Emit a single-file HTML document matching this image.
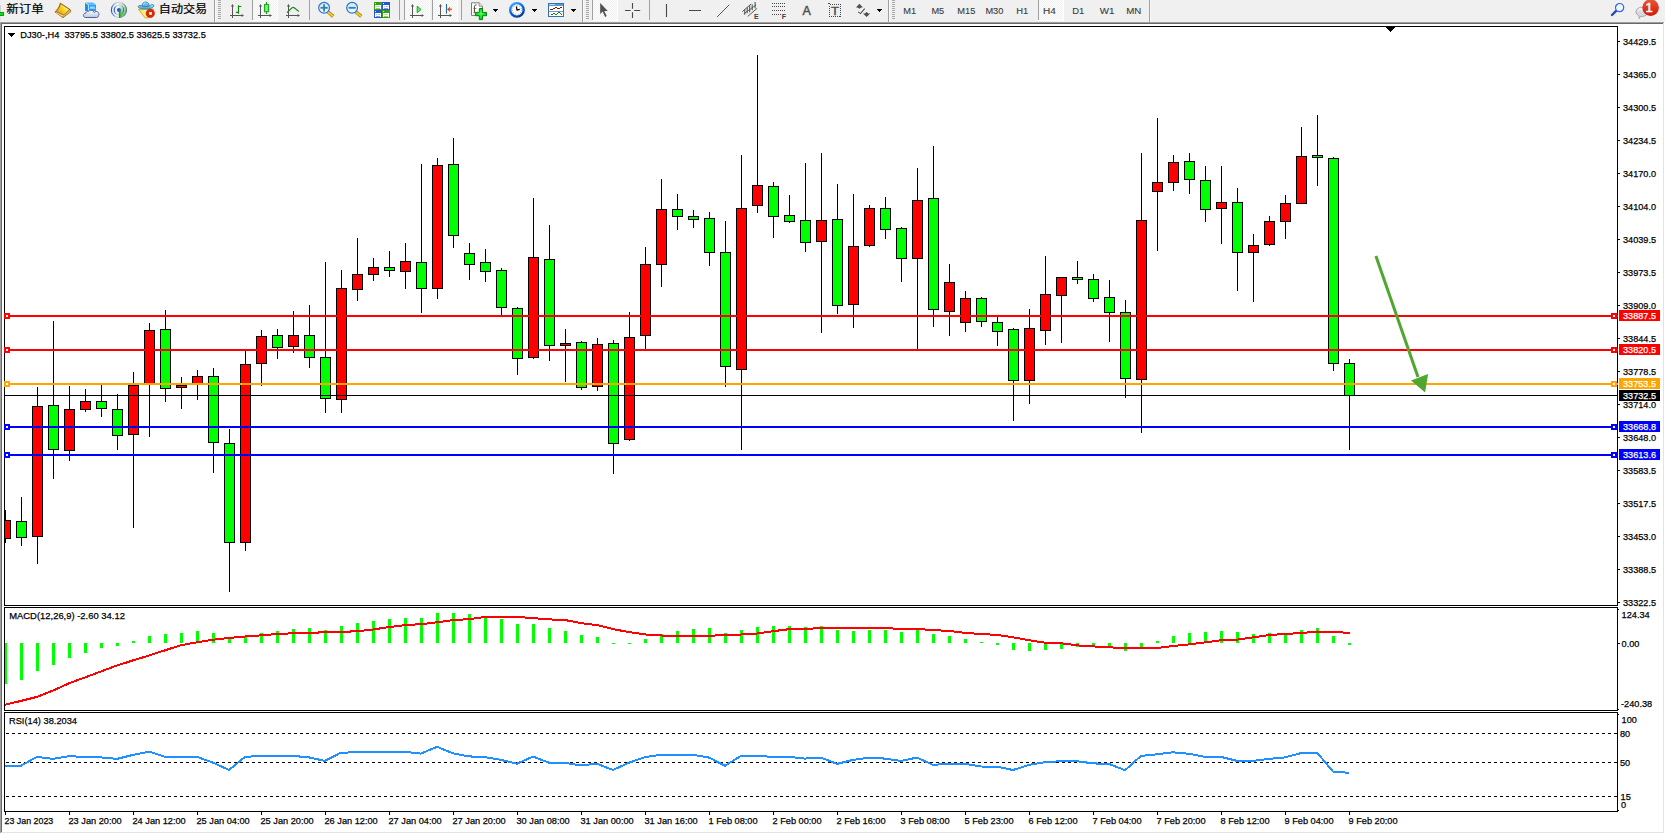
<!DOCTYPE html>
<html lang="zh"><head><meta charset="utf-8"><title>DJ30-,H4</title>
<style>
html,body{margin:0;padding:0;background:#f0f0f0;overflow:hidden}
body{width:1665px;height:834px;position:relative}
svg{position:absolute;left:0;top:0;display:block}
text{white-space:pre}
</style></head><body>
<svg width="1665" height="834" viewBox="0 0 1665 834">
<rect width="1665" height="834" fill="#f0f0f0"/>
<g shape-rendering="crispEdges">
<rect x="0" y="22" width="1665" height="812" fill="#fff"/>
<rect x="0" y="22" width="1664" height="1" fill="#a0a0a0"/>
<rect x="0" y="22" width="1" height="811" fill="#a0a0a0"/>
<rect x="1" y="23" width="1662" height="1" fill="#696969"/>
<rect x="1" y="23" width="1" height="809" fill="#696969"/>
<rect x="1663" y="23" width="1" height="810" fill="#e3e3e3"/>
<rect x="1" y="832" width="1663" height="1" fill="#e3e3e3"/>
<rect x="4" y="26" width="1614" height="1" fill="#000"/>
<rect x="4" y="605" width="1614" height="1" fill="#000"/>
<rect x="4" y="26" width="1" height="580" fill="#000"/>
<rect x="1617" y="26" width="1" height="580" fill="#000"/>
<rect x="4" y="607" width="1614" height="1" fill="#000"/>
<rect x="4" y="710" width="1614" height="1" fill="#000"/>
<rect x="4" y="607" width="1" height="104" fill="#000"/>
<rect x="1617" y="607" width="1" height="104" fill="#000"/>
<rect x="4" y="712" width="1614" height="1" fill="#000"/>
<rect x="4" y="811" width="1614" height="1" fill="#000"/>
<rect x="4" y="712" width="1" height="100" fill="#000"/>
<rect x="1617" y="712" width="1" height="100" fill="#000"/>
<clipPath id="cm"><rect x="5" y="27" width="1612" height="578"/></clipPath>
<clipPath id="cd"><rect x="5" y="608" width="1612" height="102"/></clipPath>
<clipPath id="cr"><rect x="5" y="713" width="1612" height="98"/></clipPath>
<g clip-path="url(#cm)">
<rect x="5" y="510" width="1" height="33" fill="#000"/>
<rect x="0" y="520" width="11" height="19" fill="#000"/>
<rect x="1" y="521" width="9" height="17" fill="#f00"/>
<rect x="21" y="497" width="1" height="49" fill="#000"/>
<rect x="16" y="521" width="11" height="17" fill="#000"/>
<rect x="17" y="522" width="9" height="15" fill="#0f0"/>
<rect x="37" y="387" width="1" height="177" fill="#000"/>
<rect x="32" y="406" width="11" height="131" fill="#000"/>
<rect x="33" y="407" width="9" height="129" fill="#f00"/>
<rect x="53" y="321" width="1" height="158" fill="#000"/>
<rect x="48" y="405" width="11" height="45" fill="#000"/>
<rect x="49" y="406" width="9" height="43" fill="#0f0"/>
<rect x="69" y="386" width="1" height="75" fill="#000"/>
<rect x="64" y="409" width="11" height="42" fill="#000"/>
<rect x="65" y="410" width="9" height="40" fill="#f00"/>
<rect x="85" y="389" width="1" height="23" fill="#000"/>
<rect x="80" y="401" width="11" height="9" fill="#000"/>
<rect x="81" y="402" width="9" height="7" fill="#f00"/>
<rect x="101" y="385" width="1" height="32" fill="#000"/>
<rect x="96" y="401" width="11" height="8" fill="#000"/>
<rect x="97" y="402" width="9" height="6" fill="#0f0"/>
<rect x="117" y="394" width="1" height="56" fill="#000"/>
<rect x="112" y="409" width="11" height="27" fill="#000"/>
<rect x="113" y="410" width="9" height="25" fill="#0f0"/>
<rect x="133" y="372" width="1" height="156" fill="#000"/>
<rect x="128" y="385" width="11" height="50" fill="#000"/>
<rect x="129" y="386" width="9" height="48" fill="#f00"/>
<rect x="149" y="323" width="1" height="114" fill="#000"/>
<rect x="144" y="330" width="11" height="54" fill="#000"/>
<rect x="145" y="331" width="9" height="52" fill="#f00"/>
<rect x="165" y="310" width="1" height="92" fill="#000"/>
<rect x="160" y="329" width="11" height="60" fill="#000"/>
<rect x="161" y="330" width="9" height="58" fill="#0f0"/>
<rect x="181" y="377" width="1" height="32" fill="#000"/>
<rect x="176" y="385" width="11" height="3" fill="#000"/>
<rect x="177" y="386" width="9" height="1" fill="#f00"/>
<rect x="197" y="370" width="1" height="30" fill="#000"/>
<rect x="192" y="376" width="11" height="8" fill="#000"/>
<rect x="193" y="377" width="9" height="6" fill="#f00"/>
<rect x="213" y="368" width="1" height="105" fill="#000"/>
<rect x="208" y="376" width="11" height="67" fill="#000"/>
<rect x="209" y="377" width="9" height="65" fill="#0f0"/>
<rect x="229" y="429" width="1" height="163" fill="#000"/>
<rect x="224" y="443" width="11" height="100" fill="#000"/>
<rect x="225" y="444" width="9" height="98" fill="#0f0"/>
<rect x="245" y="350" width="1" height="201" fill="#000"/>
<rect x="240" y="364" width="11" height="179" fill="#000"/>
<rect x="241" y="365" width="9" height="177" fill="#f00"/>
<rect x="261" y="330" width="1" height="56" fill="#000"/>
<rect x="256" y="336" width="11" height="28" fill="#000"/>
<rect x="257" y="337" width="9" height="26" fill="#f00"/>
<rect x="277" y="329" width="1" height="30" fill="#000"/>
<rect x="272" y="335" width="11" height="13" fill="#000"/>
<rect x="273" y="336" width="9" height="11" fill="#0f0"/>
<rect x="293" y="311" width="1" height="42" fill="#000"/>
<rect x="288" y="335" width="11" height="12" fill="#000"/>
<rect x="289" y="336" width="9" height="10" fill="#f00"/>
<rect x="309" y="305" width="1" height="63" fill="#000"/>
<rect x="304" y="335" width="11" height="23" fill="#000"/>
<rect x="305" y="336" width="9" height="21" fill="#0f0"/>
<rect x="325" y="262" width="1" height="151" fill="#000"/>
<rect x="320" y="357" width="11" height="42" fill="#000"/>
<rect x="321" y="358" width="9" height="40" fill="#0f0"/>
<rect x="341" y="270" width="1" height="143" fill="#000"/>
<rect x="336" y="288" width="11" height="112" fill="#000"/>
<rect x="337" y="289" width="9" height="110" fill="#f00"/>
<rect x="357" y="238" width="1" height="63" fill="#000"/>
<rect x="352" y="274" width="11" height="16" fill="#000"/>
<rect x="353" y="275" width="9" height="14" fill="#f00"/>
<rect x="373" y="258" width="1" height="23" fill="#000"/>
<rect x="368" y="267" width="11" height="8" fill="#000"/>
<rect x="369" y="268" width="9" height="6" fill="#f00"/>
<rect x="389" y="251" width="1" height="26" fill="#000"/>
<rect x="384" y="267" width="11" height="4" fill="#000"/>
<rect x="385" y="268" width="9" height="2" fill="#0f0"/>
<rect x="405" y="243" width="1" height="46" fill="#000"/>
<rect x="400" y="261" width="11" height="11" fill="#000"/>
<rect x="401" y="262" width="9" height="9" fill="#f00"/>
<rect x="421" y="164" width="1" height="149" fill="#000"/>
<rect x="416" y="262" width="11" height="27" fill="#000"/>
<rect x="417" y="263" width="9" height="25" fill="#0f0"/>
<rect x="437" y="158" width="1" height="141" fill="#000"/>
<rect x="432" y="165" width="11" height="124" fill="#000"/>
<rect x="433" y="166" width="9" height="122" fill="#f00"/>
<rect x="453" y="138" width="1" height="110" fill="#000"/>
<rect x="448" y="164" width="11" height="72" fill="#000"/>
<rect x="449" y="165" width="9" height="70" fill="#0f0"/>
<rect x="469" y="243" width="1" height="37" fill="#000"/>
<rect x="464" y="253" width="11" height="12" fill="#000"/>
<rect x="465" y="254" width="9" height="10" fill="#0f0"/>
<rect x="485" y="249" width="1" height="33" fill="#000"/>
<rect x="480" y="262" width="11" height="10" fill="#000"/>
<rect x="481" y="263" width="9" height="8" fill="#0f0"/>
<rect x="501" y="268" width="1" height="48" fill="#000"/>
<rect x="496" y="270" width="11" height="38" fill="#000"/>
<rect x="497" y="271" width="9" height="36" fill="#0f0"/>
<rect x="517" y="307" width="1" height="68" fill="#000"/>
<rect x="512" y="308" width="11" height="51" fill="#000"/>
<rect x="513" y="309" width="9" height="49" fill="#0f0"/>
<rect x="533" y="198" width="1" height="161" fill="#000"/>
<rect x="528" y="257" width="11" height="101" fill="#000"/>
<rect x="529" y="258" width="9" height="99" fill="#f00"/>
<rect x="549" y="225" width="1" height="136" fill="#000"/>
<rect x="544" y="259" width="11" height="87" fill="#000"/>
<rect x="545" y="260" width="9" height="85" fill="#0f0"/>
<rect x="565" y="329" width="1" height="53" fill="#000"/>
<rect x="560" y="343" width="11" height="3" fill="#000"/>
<rect x="561" y="344" width="9" height="1" fill="#f00"/>
<rect x="581" y="341" width="1" height="49" fill="#000"/>
<rect x="576" y="342" width="11" height="46" fill="#000"/>
<rect x="577" y="343" width="9" height="44" fill="#0f0"/>
<rect x="597" y="338" width="1" height="53" fill="#000"/>
<rect x="592" y="344" width="11" height="43" fill="#000"/>
<rect x="593" y="345" width="9" height="41" fill="#f00"/>
<rect x="613" y="340" width="1" height="134" fill="#000"/>
<rect x="608" y="343" width="11" height="101" fill="#000"/>
<rect x="609" y="344" width="9" height="99" fill="#0f0"/>
<rect x="629" y="312" width="1" height="129" fill="#000"/>
<rect x="624" y="337" width="11" height="103" fill="#000"/>
<rect x="625" y="338" width="9" height="101" fill="#f00"/>
<rect x="645" y="247" width="1" height="102" fill="#000"/>
<rect x="640" y="264" width="11" height="72" fill="#000"/>
<rect x="641" y="265" width="9" height="70" fill="#f00"/>
<rect x="661" y="179" width="1" height="108" fill="#000"/>
<rect x="656" y="209" width="11" height="56" fill="#000"/>
<rect x="657" y="210" width="9" height="54" fill="#f00"/>
<rect x="677" y="194" width="1" height="36" fill="#000"/>
<rect x="672" y="209" width="11" height="8" fill="#000"/>
<rect x="673" y="210" width="9" height="6" fill="#0f0"/>
<rect x="693" y="210" width="1" height="18" fill="#000"/>
<rect x="688" y="216" width="11" height="4" fill="#000"/>
<rect x="689" y="217" width="9" height="2" fill="#0f0"/>
<rect x="709" y="212" width="1" height="54" fill="#000"/>
<rect x="704" y="218" width="11" height="35" fill="#000"/>
<rect x="705" y="219" width="9" height="33" fill="#0f0"/>
<rect x="725" y="221" width="1" height="166" fill="#000"/>
<rect x="720" y="252" width="11" height="115" fill="#000"/>
<rect x="721" y="253" width="9" height="113" fill="#0f0"/>
<rect x="741" y="155" width="1" height="295" fill="#000"/>
<rect x="736" y="208" width="11" height="162" fill="#000"/>
<rect x="737" y="209" width="9" height="160" fill="#f00"/>
<rect x="757" y="55" width="1" height="158" fill="#000"/>
<rect x="752" y="185" width="11" height="21" fill="#000"/>
<rect x="753" y="186" width="9" height="19" fill="#f00"/>
<rect x="773" y="182" width="1" height="56" fill="#000"/>
<rect x="768" y="186" width="11" height="31" fill="#000"/>
<rect x="769" y="187" width="9" height="29" fill="#0f0"/>
<rect x="789" y="195" width="1" height="28" fill="#000"/>
<rect x="784" y="215" width="11" height="7" fill="#000"/>
<rect x="785" y="216" width="9" height="5" fill="#0f0"/>
<rect x="805" y="163" width="1" height="89" fill="#000"/>
<rect x="800" y="220" width="11" height="23" fill="#000"/>
<rect x="801" y="221" width="9" height="21" fill="#0f0"/>
<rect x="821" y="153" width="1" height="180" fill="#000"/>
<rect x="816" y="220" width="11" height="22" fill="#000"/>
<rect x="817" y="221" width="9" height="20" fill="#f00"/>
<rect x="837" y="184" width="1" height="130" fill="#000"/>
<rect x="832" y="219" width="11" height="87" fill="#000"/>
<rect x="833" y="220" width="9" height="85" fill="#0f0"/>
<rect x="853" y="194" width="1" height="134" fill="#000"/>
<rect x="848" y="246" width="11" height="59" fill="#000"/>
<rect x="849" y="247" width="9" height="57" fill="#f00"/>
<rect x="869" y="205" width="1" height="42" fill="#000"/>
<rect x="864" y="208" width="11" height="38" fill="#000"/>
<rect x="865" y="209" width="9" height="36" fill="#f00"/>
<rect x="885" y="197" width="1" height="42" fill="#000"/>
<rect x="880" y="208" width="11" height="22" fill="#000"/>
<rect x="881" y="209" width="9" height="20" fill="#0f0"/>
<rect x="901" y="227" width="1" height="55" fill="#000"/>
<rect x="896" y="228" width="11" height="31" fill="#000"/>
<rect x="897" y="229" width="9" height="29" fill="#0f0"/>
<rect x="917" y="168" width="1" height="181" fill="#000"/>
<rect x="912" y="200" width="11" height="59" fill="#000"/>
<rect x="913" y="201" width="9" height="57" fill="#f00"/>
<rect x="933" y="146" width="1" height="181" fill="#000"/>
<rect x="928" y="198" width="11" height="112" fill="#000"/>
<rect x="929" y="199" width="9" height="110" fill="#0f0"/>
<rect x="949" y="264" width="1" height="72" fill="#000"/>
<rect x="944" y="282" width="11" height="30" fill="#000"/>
<rect x="945" y="283" width="9" height="28" fill="#f00"/>
<rect x="965" y="291" width="1" height="41" fill="#000"/>
<rect x="960" y="298" width="11" height="25" fill="#000"/>
<rect x="961" y="299" width="9" height="23" fill="#f00"/>
<rect x="981" y="297" width="1" height="30" fill="#000"/>
<rect x="976" y="298" width="11" height="24" fill="#000"/>
<rect x="977" y="299" width="9" height="22" fill="#0f0"/>
<rect x="997" y="317" width="1" height="29" fill="#000"/>
<rect x="992" y="322" width="11" height="10" fill="#000"/>
<rect x="993" y="323" width="9" height="8" fill="#0f0"/>
<rect x="1013" y="328" width="1" height="93" fill="#000"/>
<rect x="1008" y="329" width="11" height="52" fill="#000"/>
<rect x="1009" y="330" width="9" height="50" fill="#0f0"/>
<rect x="1029" y="309" width="1" height="95" fill="#000"/>
<rect x="1024" y="328" width="11" height="53" fill="#000"/>
<rect x="1025" y="329" width="9" height="51" fill="#f00"/>
<rect x="1045" y="256" width="1" height="89" fill="#000"/>
<rect x="1040" y="294" width="11" height="37" fill="#000"/>
<rect x="1041" y="295" width="9" height="35" fill="#f00"/>
<rect x="1061" y="277" width="1" height="66" fill="#000"/>
<rect x="1056" y="277" width="11" height="19" fill="#000"/>
<rect x="1057" y="278" width="9" height="17" fill="#f00"/>
<rect x="1077" y="261" width="1" height="23" fill="#000"/>
<rect x="1072" y="277" width="11" height="3" fill="#000"/>
<rect x="1073" y="278" width="9" height="1" fill="#0f0"/>
<rect x="1093" y="274" width="1" height="28" fill="#000"/>
<rect x="1088" y="279" width="11" height="20" fill="#000"/>
<rect x="1089" y="280" width="9" height="18" fill="#0f0"/>
<rect x="1109" y="280" width="1" height="62" fill="#000"/>
<rect x="1104" y="297" width="11" height="16" fill="#000"/>
<rect x="1105" y="298" width="9" height="14" fill="#0f0"/>
<rect x="1125" y="300" width="1" height="98" fill="#000"/>
<rect x="1120" y="312" width="11" height="67" fill="#000"/>
<rect x="1121" y="313" width="9" height="65" fill="#0f0"/>
<rect x="1141" y="153" width="1" height="280" fill="#000"/>
<rect x="1136" y="220" width="11" height="160" fill="#000"/>
<rect x="1137" y="221" width="9" height="158" fill="#f00"/>
<rect x="1157" y="118" width="1" height="133" fill="#000"/>
<rect x="1152" y="182" width="11" height="10" fill="#000"/>
<rect x="1153" y="183" width="9" height="8" fill="#f00"/>
<rect x="1173" y="155" width="1" height="36" fill="#000"/>
<rect x="1168" y="162" width="11" height="21" fill="#000"/>
<rect x="1169" y="163" width="9" height="19" fill="#f00"/>
<rect x="1189" y="153" width="1" height="41" fill="#000"/>
<rect x="1184" y="161" width="11" height="19" fill="#000"/>
<rect x="1185" y="162" width="9" height="17" fill="#0f0"/>
<rect x="1205" y="166" width="1" height="56" fill="#000"/>
<rect x="1200" y="180" width="11" height="30" fill="#000"/>
<rect x="1201" y="181" width="9" height="28" fill="#0f0"/>
<rect x="1221" y="166" width="1" height="78" fill="#000"/>
<rect x="1216" y="202" width="11" height="7" fill="#000"/>
<rect x="1217" y="203" width="9" height="5" fill="#f00"/>
<rect x="1237" y="188" width="1" height="103" fill="#000"/>
<rect x="1232" y="202" width="11" height="51" fill="#000"/>
<rect x="1233" y="203" width="9" height="49" fill="#0f0"/>
<rect x="1253" y="234" width="1" height="68" fill="#000"/>
<rect x="1248" y="245" width="11" height="8" fill="#000"/>
<rect x="1249" y="246" width="9" height="6" fill="#f00"/>
<rect x="1269" y="216" width="1" height="30" fill="#000"/>
<rect x="1264" y="221" width="11" height="24" fill="#000"/>
<rect x="1265" y="222" width="9" height="22" fill="#f00"/>
<rect x="1285" y="195" width="1" height="44" fill="#000"/>
<rect x="1280" y="203" width="11" height="19" fill="#000"/>
<rect x="1281" y="204" width="9" height="17" fill="#f00"/>
<rect x="1301" y="127" width="1" height="77" fill="#000"/>
<rect x="1296" y="156" width="11" height="48" fill="#000"/>
<rect x="1297" y="157" width="9" height="46" fill="#f00"/>
<rect x="1317" y="115" width="1" height="71" fill="#000"/>
<rect x="1312" y="155" width="11" height="3" fill="#000"/>
<rect x="1313" y="156" width="9" height="1" fill="#0f0"/>
<rect x="1333" y="157" width="1" height="214" fill="#000"/>
<rect x="1328" y="158" width="11" height="206" fill="#000"/>
<rect x="1329" y="159" width="9" height="204" fill="#0f0"/>
<rect x="1349" y="359" width="1" height="91" fill="#000"/>
<rect x="1344" y="363" width="11" height="33" fill="#000"/>
<rect x="1345" y="364" width="9" height="31" fill="#0f0"/>
</g>
<rect x="5" y="395" width="1612" height="1" fill="#000"/>
<rect x="4" y="315" width="1614" height="2" fill="#f00"/>
<rect x="4" y="313" width="6" height="6" fill="#f00"/>
<rect x="6" y="315" width="2" height="2" fill="#fff"/>
<rect x="1611" y="313" width="6" height="6" fill="#f00"/>
<rect x="1613" y="315" width="2" height="2" fill="#fff"/>
<rect x="4" y="349" width="1614" height="2" fill="#f00"/>
<rect x="4" y="347" width="6" height="6" fill="#f00"/>
<rect x="6" y="349" width="2" height="2" fill="#fff"/>
<rect x="1611" y="347" width="6" height="6" fill="#f00"/>
<rect x="1613" y="349" width="2" height="2" fill="#fff"/>
<rect x="4" y="383" width="1614" height="2" fill="#ffa500"/>
<rect x="4" y="381" width="6" height="6" fill="#ffa500"/>
<rect x="6" y="383" width="2" height="2" fill="#fff"/>
<rect x="1611" y="381" width="6" height="6" fill="#ffa500"/>
<rect x="1613" y="383" width="2" height="2" fill="#fff"/>
<rect x="4" y="426" width="1614" height="2" fill="#00f"/>
<rect x="4" y="424" width="6" height="6" fill="#00f"/>
<rect x="6" y="426" width="2" height="2" fill="#fff"/>
<rect x="1611" y="424" width="6" height="6" fill="#00f"/>
<rect x="1613" y="426" width="2" height="2" fill="#fff"/>
<rect x="4" y="454" width="1614" height="2" fill="#00f"/>
<rect x="4" y="452" width="6" height="6" fill="#00f"/>
<rect x="6" y="454" width="2" height="2" fill="#fff"/>
<rect x="1611" y="452" width="6" height="6" fill="#00f"/>
<rect x="1613" y="454" width="2" height="2" fill="#fff"/>
<rect x="1618" y="41" width="2" height="1" fill="#000"/>
<rect x="1618" y="74" width="2" height="1" fill="#000"/>
<rect x="1618" y="107" width="2" height="1" fill="#000"/>
<rect x="1618" y="140" width="2" height="1" fill="#000"/>
<rect x="1618" y="173" width="2" height="1" fill="#000"/>
<rect x="1618" y="206" width="2" height="1" fill="#000"/>
<rect x="1618" y="239" width="2" height="1" fill="#000"/>
<rect x="1618" y="272" width="2" height="1" fill="#000"/>
<rect x="1618" y="305" width="2" height="1" fill="#000"/>
<rect x="1618" y="338" width="2" height="1" fill="#000"/>
<rect x="1618" y="371" width="2" height="1" fill="#000"/>
<rect x="1618" y="404" width="2" height="1" fill="#000"/>
<rect x="1618" y="437" width="2" height="1" fill="#000"/>
<rect x="1618" y="470" width="2" height="1" fill="#000"/>
<rect x="1618" y="503" width="2" height="1" fill="#000"/>
<rect x="1618" y="536" width="2" height="1" fill="#000"/>
<rect x="1618" y="569" width="2" height="1" fill="#000"/>
<rect x="1618" y="602" width="2" height="1" fill="#000"/>
</g>
<g font-family="'Liberation Sans', sans-serif" font-size="9.8" stroke-width="0.25">
<text x="1623" y="44.6" fill="#000" stroke="#000" textLength="33.0" lengthAdjust="spacingAndGlyphs">34429.5</text>
<text x="1623" y="77.6" fill="#000" stroke="#000" textLength="33.0" lengthAdjust="spacingAndGlyphs">34365.0</text>
<text x="1623" y="110.6" fill="#000" stroke="#000" textLength="33.0" lengthAdjust="spacingAndGlyphs">34300.5</text>
<text x="1623" y="143.6" fill="#000" stroke="#000" textLength="33.0" lengthAdjust="spacingAndGlyphs">34234.5</text>
<text x="1623" y="176.6" fill="#000" stroke="#000" textLength="33.0" lengthAdjust="spacingAndGlyphs">34170.0</text>
<text x="1623" y="209.6" fill="#000" stroke="#000" textLength="33.0" lengthAdjust="spacingAndGlyphs">34104.0</text>
<text x="1623" y="242.6" fill="#000" stroke="#000" textLength="33.0" lengthAdjust="spacingAndGlyphs">34039.5</text>
<text x="1623" y="275.6" fill="#000" stroke="#000" textLength="33.0" lengthAdjust="spacingAndGlyphs">33973.5</text>
<text x="1623" y="308.6" fill="#000" stroke="#000" textLength="33.0" lengthAdjust="spacingAndGlyphs">33909.0</text>
<text x="1623" y="341.6" fill="#000" stroke="#000" textLength="33.0" lengthAdjust="spacingAndGlyphs">33844.5</text>
<text x="1623" y="374.6" fill="#000" stroke="#000" textLength="33.0" lengthAdjust="spacingAndGlyphs">33778.5</text>
<text x="1623" y="407.6" fill="#000" stroke="#000" textLength="33.0" lengthAdjust="spacingAndGlyphs">33714.0</text>
<text x="1623" y="440.6" fill="#000" stroke="#000" textLength="33.0" lengthAdjust="spacingAndGlyphs">33648.0</text>
<text x="1623" y="473.6" fill="#000" stroke="#000" textLength="33.0" lengthAdjust="spacingAndGlyphs">33583.5</text>
<text x="1623" y="506.6" fill="#000" stroke="#000" textLength="33.0" lengthAdjust="spacingAndGlyphs">33517.5</text>
<text x="1623" y="539.6" fill="#000" stroke="#000" textLength="33.0" lengthAdjust="spacingAndGlyphs">33453.0</text>
<text x="1623" y="572.6" fill="#000" stroke="#000" textLength="33.0" lengthAdjust="spacingAndGlyphs">33388.5</text>
<text x="1623" y="605.6" fill="#000" stroke="#000" textLength="33.0" lengthAdjust="spacingAndGlyphs">33322.5</text>
<g shape-rendering="crispEdges">
<rect x="1619" y="310" width="41" height="11" fill="#f00"/>
<rect x="1619" y="344" width="41" height="11" fill="#f00"/>
<rect x="1619" y="378" width="41" height="11" fill="#ffa500"/>
<rect x="1619" y="390" width="41" height="11" fill="#000"/>
<rect x="1619" y="421" width="41" height="11" fill="#00f"/>
<rect x="1619" y="449" width="41" height="11" fill="#00f"/>
</g>
<text x="1623" y="318.7" fill="#fff" stroke="#fff" textLength="33.0" lengthAdjust="spacingAndGlyphs">33887.5</text>
<text x="1623" y="352.7" fill="#fff" stroke="#fff" textLength="33.0" lengthAdjust="spacingAndGlyphs">33820.5</text>
<text x="1623" y="386.7" fill="#fff" stroke="#fff" textLength="33.0" lengthAdjust="spacingAndGlyphs">33753.5</text>
<text x="1623" y="398.7" fill="#fff" stroke="#fff" textLength="33.0" lengthAdjust="spacingAndGlyphs">33732.5</text>
<text x="1623" y="429.7" fill="#fff" stroke="#fff" textLength="33.0" lengthAdjust="spacingAndGlyphs">33668.8</text>
<text x="1623" y="457.7" fill="#fff" stroke="#fff" textLength="33.0" lengthAdjust="spacingAndGlyphs">33613.6</text>
<g shape-rendering="crispEdges">
<rect x="8" y="33" width="7" height="1" fill="#000"/>
<rect x="9" y="34" width="5" height="1" fill="#000"/>
<rect x="10" y="35" width="3" height="1" fill="#000"/>
<rect x="11" y="36" width="1" height="1" fill="#000"/>
</g>
<text x="20.3" y="37.8" fill="#000" stroke="#000" textLength="185.5" lengthAdjust="spacingAndGlyphs" xml:space="preserve">DJ30-,H4&#160;&#160;33795.5 33802.5 33625.5 33732.5</text>
<text x="9.2" y="619.2" fill="#000" stroke="#000" textLength="115.7" lengthAdjust="spacingAndGlyphs">MACD(12,26,9) -2.60 34.12</text>
<text x="9" y="724.2" fill="#000" stroke="#000" textLength="68.0" lengthAdjust="spacingAndGlyphs">RSI(14) 38.2034</text>
<text x="1621.6" y="617.8" fill="#000" stroke="#000" textLength="28.1" lengthAdjust="spacingAndGlyphs">124.34</text>
<text x="1621.6" y="646.8" fill="#000" stroke="#000" textLength="17.9" lengthAdjust="spacingAndGlyphs">0.00</text>
<text x="1621" y="706.8" fill="#000" stroke="#000" textLength="31.2" lengthAdjust="spacingAndGlyphs">-240.38</text>
<text x="1621.6" y="722.8" fill="#000" stroke="#000" textLength="15.3" lengthAdjust="spacingAndGlyphs">100</text>
<text x="1620" y="736.8" fill="#000" stroke="#000" textLength="10.2" lengthAdjust="spacingAndGlyphs">80</text>
<text x="1620" y="765.8" fill="#000" stroke="#000" textLength="10.2" lengthAdjust="spacingAndGlyphs">50</text>
<text x="1620.6" y="799.8" fill="#000" stroke="#000" textLength="10.2" lengthAdjust="spacingAndGlyphs">15</text>
<text x="1621" y="808.4" fill="#000" stroke="#000" textLength="5.1" lengthAdjust="spacingAndGlyphs">0</text>
<text x="4.5" y="823.8" fill="#000" stroke="#000" textLength="48.8" lengthAdjust="spacingAndGlyphs">23 Jan 2023</text>
<text x="68.5" y="823.8" fill="#000" stroke="#000" textLength="53.2" lengthAdjust="spacingAndGlyphs">23 Jan 20:00</text>
<text x="132.5" y="823.8" fill="#000" stroke="#000" textLength="53.2" lengthAdjust="spacingAndGlyphs">24 Jan 12:00</text>
<text x="196.5" y="823.8" fill="#000" stroke="#000" textLength="53.2" lengthAdjust="spacingAndGlyphs">25 Jan 04:00</text>
<text x="260.5" y="823.8" fill="#000" stroke="#000" textLength="53.2" lengthAdjust="spacingAndGlyphs">25 Jan 20:00</text>
<text x="324.5" y="823.8" fill="#000" stroke="#000" textLength="53.2" lengthAdjust="spacingAndGlyphs">26 Jan 12:00</text>
<text x="388.5" y="823.8" fill="#000" stroke="#000" textLength="53.2" lengthAdjust="spacingAndGlyphs">27 Jan 04:00</text>
<text x="452.5" y="823.8" fill="#000" stroke="#000" textLength="53.2" lengthAdjust="spacingAndGlyphs">27 Jan 20:00</text>
<text x="516.5" y="823.8" fill="#000" stroke="#000" textLength="53.2" lengthAdjust="spacingAndGlyphs">30 Jan 08:00</text>
<text x="580.5" y="823.8" fill="#000" stroke="#000" textLength="53.2" lengthAdjust="spacingAndGlyphs">31 Jan 00:00</text>
<text x="644.5" y="823.8" fill="#000" stroke="#000" textLength="53.2" lengthAdjust="spacingAndGlyphs">31 Jan 16:00</text>
<text x="708.5" y="823.8" fill="#000" stroke="#000" textLength="49.1" lengthAdjust="spacingAndGlyphs">1 Feb 08:00</text>
<text x="772.5" y="823.8" fill="#000" stroke="#000" textLength="49.1" lengthAdjust="spacingAndGlyphs">2 Feb 00:00</text>
<text x="836.5" y="823.8" fill="#000" stroke="#000" textLength="49.1" lengthAdjust="spacingAndGlyphs">2 Feb 16:00</text>
<text x="900.5" y="823.8" fill="#000" stroke="#000" textLength="49.1" lengthAdjust="spacingAndGlyphs">3 Feb 08:00</text>
<text x="964.5" y="823.8" fill="#000" stroke="#000" textLength="49.1" lengthAdjust="spacingAndGlyphs">5 Feb 23:00</text>
<text x="1028.5" y="823.8" fill="#000" stroke="#000" textLength="49.1" lengthAdjust="spacingAndGlyphs">6 Feb 12:00</text>
<text x="1092.5" y="823.8" fill="#000" stroke="#000" textLength="49.1" lengthAdjust="spacingAndGlyphs">7 Feb 04:00</text>
<text x="1156.5" y="823.8" fill="#000" stroke="#000" textLength="49.1" lengthAdjust="spacingAndGlyphs">7 Feb 20:00</text>
<text x="1220.5" y="823.8" fill="#000" stroke="#000" textLength="49.1" lengthAdjust="spacingAndGlyphs">8 Feb 12:00</text>
<text x="1284.5" y="823.8" fill="#000" stroke="#000" textLength="49.1" lengthAdjust="spacingAndGlyphs">9 Feb 04:00</text>
<text x="1348.5" y="823.8" fill="#000" stroke="#000" textLength="49.1" lengthAdjust="spacingAndGlyphs">9 Feb 20:00</text>
</g>
<g shape-rendering="crispEdges">
<rect x="5" y="812" width="1" height="3" fill="#000"/>
<rect x="69" y="812" width="1" height="3" fill="#000"/>
<rect x="133" y="812" width="1" height="3" fill="#000"/>
<rect x="197" y="812" width="1" height="3" fill="#000"/>
<rect x="261" y="812" width="1" height="3" fill="#000"/>
<rect x="325" y="812" width="1" height="3" fill="#000"/>
<rect x="389" y="812" width="1" height="3" fill="#000"/>
<rect x="453" y="812" width="1" height="3" fill="#000"/>
<rect x="517" y="812" width="1" height="3" fill="#000"/>
<rect x="581" y="812" width="1" height="3" fill="#000"/>
<rect x="645" y="812" width="1" height="3" fill="#000"/>
<rect x="709" y="812" width="1" height="3" fill="#000"/>
<rect x="773" y="812" width="1" height="3" fill="#000"/>
<rect x="837" y="812" width="1" height="3" fill="#000"/>
<rect x="901" y="812" width="1" height="3" fill="#000"/>
<rect x="965" y="812" width="1" height="3" fill="#000"/>
<rect x="1029" y="812" width="1" height="3" fill="#000"/>
<rect x="1093" y="812" width="1" height="3" fill="#000"/>
<rect x="1157" y="812" width="1" height="3" fill="#000"/>
<rect x="1221" y="812" width="1" height="3" fill="#000"/>
<rect x="1285" y="812" width="1" height="3" fill="#000"/>
<rect x="1349" y="812" width="1" height="3" fill="#000"/>
<rect x="1618" y="609" width="1" height="1" fill="#000"/>
<rect x="1618" y="643" width="2" height="1" fill="#000"/>
<rect x="1618" y="709" width="1" height="1" fill="#000"/>
<rect x="1618" y="714" width="1" height="1" fill="#000"/>
<rect x="1618" y="810" width="1" height="1" fill="#000"/>
<g clip-path="url(#cd)">
<rect x="4" y="643" width="3" height="41" fill="#0f0"/>
<rect x="20" y="643" width="3" height="37" fill="#0f0"/>
<rect x="36" y="643" width="3" height="28" fill="#0f0"/>
<rect x="52" y="643" width="3" height="22" fill="#0f0"/>
<rect x="68" y="643" width="3" height="15" fill="#0f0"/>
<rect x="84" y="643" width="3" height="10" fill="#0f0"/>
<rect x="100" y="643" width="3" height="5" fill="#0f0"/>
<rect x="116" y="643" width="3" height="3" fill="#0f0"/>
<rect x="132" y="641" width="3" height="2" fill="#0f0"/>
<rect x="148" y="636" width="3" height="7" fill="#0f0"/>
<rect x="164" y="634" width="3" height="9" fill="#0f0"/>
<rect x="180" y="633" width="3" height="10" fill="#0f0"/>
<rect x="196" y="631" width="3" height="12" fill="#0f0"/>
<rect x="212" y="633" width="3" height="10" fill="#0f0"/>
<rect x="228" y="638" width="3" height="5" fill="#0f0"/>
<rect x="244" y="636" width="3" height="7" fill="#0f0"/>
<rect x="260" y="633" width="3" height="10" fill="#0f0"/>
<rect x="276" y="631" width="3" height="12" fill="#0f0"/>
<rect x="292" y="629" width="3" height="14" fill="#0f0"/>
<rect x="308" y="628" width="3" height="15" fill="#0f0"/>
<rect x="324" y="630" width="3" height="13" fill="#0f0"/>
<rect x="340" y="626" width="3" height="17" fill="#0f0"/>
<rect x="356" y="623" width="3" height="20" fill="#0f0"/>
<rect x="372" y="621" width="3" height="22" fill="#0f0"/>
<rect x="388" y="619" width="3" height="24" fill="#0f0"/>
<rect x="404" y="618" width="3" height="25" fill="#0f0"/>
<rect x="420" y="618" width="3" height="25" fill="#0f0"/>
<rect x="436" y="613" width="3" height="30" fill="#0f0"/>
<rect x="452" y="613" width="3" height="30" fill="#0f0"/>
<rect x="468" y="614" width="3" height="29" fill="#0f0"/>
<rect x="484" y="616" width="3" height="27" fill="#0f0"/>
<rect x="500" y="619" width="3" height="24" fill="#0f0"/>
<rect x="516" y="624" width="3" height="19" fill="#0f0"/>
<rect x="532" y="624" width="3" height="19" fill="#0f0"/>
<rect x="548" y="628" width="3" height="15" fill="#0f0"/>
<rect x="564" y="631" width="3" height="12" fill="#0f0"/>
<rect x="580" y="635" width="3" height="8" fill="#0f0"/>
<rect x="596" y="637" width="3" height="6" fill="#0f0"/>
<rect x="612" y="643" width="3" height="1" fill="#0f0"/>
<rect x="628" y="643" width="3" height="1" fill="#0f0"/>
<rect x="644" y="639" width="3" height="4" fill="#0f0"/>
<rect x="660" y="634" width="3" height="9" fill="#0f0"/>
<rect x="676" y="631" width="3" height="12" fill="#0f0"/>
<rect x="692" y="629" width="3" height="14" fill="#0f0"/>
<rect x="708" y="628" width="3" height="15" fill="#0f0"/>
<rect x="724" y="633" width="3" height="10" fill="#0f0"/>
<rect x="740" y="630" width="3" height="13" fill="#0f0"/>
<rect x="756" y="627" width="3" height="16" fill="#0f0"/>
<rect x="772" y="626" width="3" height="17" fill="#0f0"/>
<rect x="788" y="626" width="3" height="17" fill="#0f0"/>
<rect x="804" y="627" width="3" height="16" fill="#0f0"/>
<rect x="820" y="626" width="3" height="17" fill="#0f0"/>
<rect x="836" y="630" width="3" height="13" fill="#0f0"/>
<rect x="852" y="631" width="3" height="12" fill="#0f0"/>
<rect x="868" y="630" width="3" height="13" fill="#0f0"/>
<rect x="884" y="630" width="3" height="13" fill="#0f0"/>
<rect x="900" y="632" width="3" height="11" fill="#0f0"/>
<rect x="916" y="629" width="3" height="14" fill="#0f0"/>
<rect x="932" y="634" width="3" height="9" fill="#0f0"/>
<rect x="948" y="636" width="3" height="7" fill="#0f0"/>
<rect x="964" y="639" width="3" height="4" fill="#0f0"/>
<rect x="980" y="642" width="3" height="1" fill="#0f0"/>
<rect x="996" y="643" width="3" height="2" fill="#0f0"/>
<rect x="1012" y="643" width="3" height="7" fill="#0f0"/>
<rect x="1028" y="643" width="3" height="8" fill="#0f0"/>
<rect x="1044" y="643" width="3" height="7" fill="#0f0"/>
<rect x="1060" y="643" width="3" height="6" fill="#0f0"/>
<rect x="1076" y="643" width="3" height="4" fill="#0f0"/>
<rect x="1092" y="643" width="3" height="4" fill="#0f0"/>
<rect x="1108" y="643" width="3" height="5" fill="#0f0"/>
<rect x="1124" y="643" width="3" height="8" fill="#0f0"/>
<rect x="1140" y="643" width="3" height="5" fill="#0f0"/>
<rect x="1156" y="641" width="3" height="2" fill="#0f0"/>
<rect x="1172" y="636" width="3" height="7" fill="#0f0"/>
<rect x="1188" y="633" width="3" height="10" fill="#0f0"/>
<rect x="1204" y="632" width="3" height="11" fill="#0f0"/>
<rect x="1220" y="631" width="3" height="12" fill="#0f0"/>
<rect x="1236" y="632" width="3" height="11" fill="#0f0"/>
<rect x="1252" y="634" width="3" height="9" fill="#0f0"/>
<rect x="1268" y="633" width="3" height="10" fill="#0f0"/>
<rect x="1284" y="633" width="3" height="10" fill="#0f0"/>
<rect x="1300" y="630" width="3" height="13" fill="#0f0"/>
<rect x="1316" y="628" width="3" height="15" fill="#0f0"/>
<rect x="1332" y="636" width="3" height="7" fill="#0f0"/>
<rect x="1348" y="643" width="3" height="2" fill="#0f0"/>
<polyline points="4,705.0 5,704.8 21,700.9 37,696.9 53,690.6 69,683.3 85,677.4 101,671.4 117,665.5 133,660.4 149,655.6 165,650.3 181,645.2 197,642.3 213,639.7 229,638.0 245,636.5 262,635.3 277,634.0 293,633.3 309,632.8 325,632.3 341,631.8 357,631.3 373,629.5 388,627.2 406,625.0 421,624.2 437.6,622.2 453.5,620.1 469.6,619.1 485.5,616.9 501,616.9 517,616.9 533,618.1 549.6,619.4 565.5,620.1 581.6,623.2 597.5,625.2 613.4,629.2 629.6,632.2 645.5,634.5 661.6,635.5 677,635.8 709,635.8 725,635.0 741,634.5 757,633.5 773,631.2 789,629.2 805,629.0 821,628.0 885,628.0 901,629.0 917,629.0 933,630.0 949.6,631.0 965.5,633.0 981.6,634.0 997.5,635.0 1013,637.3 1029.6,640.3 1045.5,642.8 1061.6,643.3 1077.5,645.4 1093,646.4 1109.5,647.4 1125,647.9 1141.6,647.9 1157.5,647.9 1173.6,645.9 1189.5,644.4 1205.6,642.3 1221,640.3 1237.6,639.6 1253.5,637.3 1269.6,635.0 1285.5,634.0 1301.4,633.0 1317.6,631.5 1333,632.2 1349.6,632.7" fill="none" stroke="#f00" stroke-width="2"/>
</g>
<line x1="6" x2="1617" y1="733.5" y2="733.5" stroke="#000" stroke-width="1" stroke-dasharray="3 3"/>
<line x1="6" x2="1617" y1="762.5" y2="762.5" stroke="#000" stroke-width="1" stroke-dasharray="3 3"/>
<line x1="6" x2="1617" y1="796.5" y2="796.5" stroke="#000" stroke-width="1" stroke-dasharray="3 3"/>
<g clip-path="url(#cr)">
<polyline points="4,765.7 5,765.7 21,765.7 37,756.9 53,758.9 69,756.2 85,756.9 101,757.4 117,758.9 133,754.9 149,751.6 165,756.9 181,756.9 197,756.9 213,762.7 229,770 245,756.9 261,755.9 277,755.9 293,755.9 309,757.4 325,760.9 341,752.6 357,752.4 373,751.9 389,751.9 405,751.8 421,753.6 437,746.8 453,753.3 469,756.4 485,757.1 501,759.9 517,763.7 533,756.6 549,762.7 565,762.9 581,765.4 597,763.7 613,770 629,762.7 645,757.1 661,754.8 677,754.8 693,754.8 709,757.6 725,765.7 741,755.9 757,755.9 773,756.9 789,756.9 805,758.6 821,757.6 837,763.9 853,759.9 869,757.6 885,758.6 901,760.9 917,757.6 933,764.9 949,763.7 965,763.9 981,766.5 997,766.7 1013,770 1029,764.9 1045,762.2 1061,761.2 1077,761.2 1093,763.4 1109,763.9 1125,770.2 1141,755.9 1157,754.3 1173,752.3 1189,753.8 1205,756.9 1221,756.9 1237,760.9 1253,760.9 1269,758.9 1285,757.4 1301,753.1 1317,752.6 1333,771.5 1349,772.8" fill="none" stroke="#1e90ff" stroke-width="2"/>
</g>
<rect x="1386" y="27" width="9" height="1" fill="#000"/>
<rect x="1387" y="28" width="7" height="1" fill="#000"/>
<rect x="1388" y="29" width="5" height="1" fill="#000"/>
<rect x="1389" y="30" width="3" height="1" fill="#000"/>
<rect x="1390" y="31" width="1" height="1" fill="#000"/>
</g>
<g fill="#4ea72e" stroke="none"><path d="M1375.9 255.9L1418 377" stroke="#4ea72e" stroke-width="3" fill="none"/><path d="M1411 380.4L1428.1 374.1L1425.1 392.5z"/></g>
<defs>
<pattern id="chk" width="2" height="2" patternUnits="userSpaceOnUse"><rect width="2" height="2" fill="#fff"/><rect width="1" height="1" fill="#f0f0f0"/><rect x="1" y="1" width="1" height="1" fill="#f0f0f0"/></pattern>
<linearGradient id="gold" x1="0.900" y1="0.300" x2="0.100" y2="0.800"><stop offset="0" stop-color="#fffa98"/><stop offset="0.500" stop-color="#f4cc20"/><stop offset="1" stop-color="#e4a810"/></linearGradient>
<linearGradient id="sky" x1="0" y1="0" x2="0" y2="1"><stop offset="0" stop-color="#20a8ff"/><stop offset="1" stop-color="#0878e8"/></linearGradient>
<linearGradient id="cloud" x1="0" y1="0" x2="0" y2="1"><stop offset="0" stop-color="#fff"/><stop offset="1" stop-color="#b8c8e0"/></linearGradient>
<linearGradient id="grn" x1="0" y1="0" x2="1" y2="0"><stop offset="0" stop-color="#30d840"/><stop offset="0.5" stop-color="#90f898"/><stop offset="1" stop-color="#30d840"/></linearGradient>
<linearGradient id="redb" x1="0" y1="0" x2="0" y2="1"><stop offset="0" stop-color="#e85838"/><stop offset="1" stop-color="#d01808"/></linearGradient>
<radialGradient id="radar" cx="0.5" cy="0.5" r="0.5"><stop offset="0" stop-color="#fff"/><stop offset="1" stop-color="#5aa860"/></radialGradient>
<linearGradient id="clk" x1="0.200" y1="0" x2="0.700" y2="1"><stop offset="0" stop-color="#38a4ff"/><stop offset="0.500" stop-color="#0868d8"/><stop offset="1" stop-color="#023c98"/></linearGradient>
<linearGradient id="hat" x1="0" y1="0" x2="0" y2="1"><stop offset="0" stop-color="#8cd0f4"/><stop offset="1" stop-color="#4ca4d8"/></linearGradient>
<linearGradient id="face" x1="0" y1="0" x2="1" y2="0"><stop offset="0" stop-color="#f4d840"/><stop offset="0.450" stop-color="#fff488"/><stop offset="1" stop-color="#f0c020"/></linearGradient>
<linearGradient id="glass" x1="0" y1="0" x2="0" y2="1"><stop offset="0" stop-color="#c8ecff"/><stop offset="1" stop-color="#eefaff"/></linearGradient>
<linearGradient id="ring" x1="0" y1="0" x2="1" y2="0"><stop offset="0" stop-color="#2858c8"/><stop offset="0.300" stop-color="#88a8e0" stop-opacity="0.550"/><stop offset="0.600" stop-color="#a8c8c8" stop-opacity="0.350"/><stop offset="1" stop-color="#205878" stop-opacity="0.750"/></linearGradient>
<radialGradient id="plusg" cx="0.500" cy="0.450" r="0.600"><stop offset="0" stop-color="#58ff70"/><stop offset="0.600" stop-color="#08e020"/><stop offset="1" stop-color="#08c018"/></radialGradient>
<linearGradient id="bub" x1="0" y1="0" x2="0" y2="1"><stop offset="0" stop-color="#fafafa"/><stop offset="0.500" stop-color="#d4d4dc"/><stop offset="1" stop-color="#e4e4f0"/></linearGradient>
</defs>
<g id="toolbar">
<rect x="214" y="0" width="1" height="22" fill="#a0a0a0" shape-rendering="crispEdges"/>
<rect x="215" y="0" width="1" height="22" fill="#fff" opacity="0.6" shape-rendering="crispEdges"/>
<rect x="582" y="0" width="1" height="22" fill="#a0a0a0" shape-rendering="crispEdges"/>
<rect x="583" y="0" width="1" height="22" fill="#fff" opacity="0.6" shape-rendering="crispEdges"/>
<rect x="888" y="0" width="1" height="22" fill="#a0a0a0" shape-rendering="crispEdges"/>
<rect x="889" y="0" width="1" height="22" fill="#fff" opacity="0.6" shape-rendering="crispEdges"/>
<rect x="218" y="0" width="3" height="1" fill="#a8a8a8" shape-rendering="crispEdges"/>
<rect x="218" y="2" width="3" height="1" fill="#a8a8a8" shape-rendering="crispEdges"/>
<rect x="218" y="4" width="3" height="1" fill="#a8a8a8" shape-rendering="crispEdges"/>
<rect x="218" y="6" width="3" height="1" fill="#a8a8a8" shape-rendering="crispEdges"/>
<rect x="218" y="8" width="3" height="1" fill="#a8a8a8" shape-rendering="crispEdges"/>
<rect x="218" y="10" width="3" height="1" fill="#a8a8a8" shape-rendering="crispEdges"/>
<rect x="218" y="12" width="3" height="1" fill="#a8a8a8" shape-rendering="crispEdges"/>
<rect x="218" y="14" width="3" height="1" fill="#a8a8a8" shape-rendering="crispEdges"/>
<rect x="218" y="16" width="3" height="1" fill="#a8a8a8" shape-rendering="crispEdges"/>
<rect x="218" y="18" width="3" height="1" fill="#a8a8a8" shape-rendering="crispEdges"/>
<rect x="586" y="0" width="3" height="1" fill="#a8a8a8" shape-rendering="crispEdges"/>
<rect x="586" y="2" width="3" height="1" fill="#a8a8a8" shape-rendering="crispEdges"/>
<rect x="586" y="4" width="3" height="1" fill="#a8a8a8" shape-rendering="crispEdges"/>
<rect x="586" y="6" width="3" height="1" fill="#a8a8a8" shape-rendering="crispEdges"/>
<rect x="586" y="8" width="3" height="1" fill="#a8a8a8" shape-rendering="crispEdges"/>
<rect x="586" y="10" width="3" height="1" fill="#a8a8a8" shape-rendering="crispEdges"/>
<rect x="586" y="12" width="3" height="1" fill="#a8a8a8" shape-rendering="crispEdges"/>
<rect x="586" y="14" width="3" height="1" fill="#a8a8a8" shape-rendering="crispEdges"/>
<rect x="586" y="16" width="3" height="1" fill="#a8a8a8" shape-rendering="crispEdges"/>
<rect x="586" y="18" width="3" height="1" fill="#a8a8a8" shape-rendering="crispEdges"/>
<rect x="892" y="0" width="3" height="1" fill="#a8a8a8" shape-rendering="crispEdges"/>
<rect x="892" y="2" width="3" height="1" fill="#a8a8a8" shape-rendering="crispEdges"/>
<rect x="892" y="4" width="3" height="1" fill="#a8a8a8" shape-rendering="crispEdges"/>
<rect x="892" y="6" width="3" height="1" fill="#a8a8a8" shape-rendering="crispEdges"/>
<rect x="892" y="8" width="3" height="1" fill="#a8a8a8" shape-rendering="crispEdges"/>
<rect x="892" y="10" width="3" height="1" fill="#a8a8a8" shape-rendering="crispEdges"/>
<rect x="892" y="12" width="3" height="1" fill="#a8a8a8" shape-rendering="crispEdges"/>
<rect x="892" y="14" width="3" height="1" fill="#a8a8a8" shape-rendering="crispEdges"/>
<rect x="892" y="16" width="3" height="1" fill="#a8a8a8" shape-rendering="crispEdges"/>
<rect x="892" y="18" width="3" height="1" fill="#a8a8a8" shape-rendering="crispEdges"/>
<rect x="309" y="0" width="1" height="20" fill="#a0a0a0" shape-rendering="crispEdges"/>
<rect x="399" y="0" width="1" height="20" fill="#a0a0a0" shape-rendering="crispEdges"/>
<rect x="461" y="0" width="1" height="20" fill="#a0a0a0" shape-rendering="crispEdges"/>
<rect x="649" y="0" width="1" height="20" fill="#a0a0a0" shape-rendering="crispEdges"/>
<rect x="1149" y="0" width="1" height="22" fill="#a0a0a0" shape-rendering="crispEdges"/><rect x="1150" y="0" width="1" height="22" fill="#fff" opacity="0.6" shape-rendering="crispEdges"/>
<g shape-rendering="crispEdges"><rect x="253" y="0" width="24" height="20" fill="url(#chk)"/><rect x="252" y="0" width="1" height="20" fill="#a0a0a0"/><rect x="252" y="20" width="26" height="1" fill="#fff"/><rect x="277" y="0" width="1" height="21" fill="#fff"/></g>
<g shape-rendering="crispEdges"><rect x="405" y="0" width="24" height="20" fill="url(#chk)"/><rect x="404" y="0" width="1" height="20" fill="#a0a0a0"/><rect x="404" y="20" width="26" height="1" fill="#fff"/><rect x="429" y="0" width="1" height="21" fill="#fff"/></g>
<g shape-rendering="crispEdges"><rect x="433" y="0" width="24" height="20" fill="url(#chk)"/><rect x="432" y="0" width="1" height="20" fill="#a0a0a0"/><rect x="432" y="20" width="26" height="1" fill="#fff"/><rect x="457" y="0" width="1" height="21" fill="#fff"/></g>
<g shape-rendering="crispEdges"><rect x="593" y="0" width="24" height="20" fill="url(#chk)"/><rect x="592" y="0" width="1" height="20" fill="#a0a0a0"/><rect x="592" y="20" width="26" height="1" fill="#fff"/><rect x="617" y="0" width="1" height="21" fill="#fff"/></g>
<g shape-rendering="crispEdges"><rect x="1039" y="0" width="24" height="20" fill="url(#chk)"/><rect x="1038" y="0" width="1" height="20" fill="#a0a0a0"/><rect x="1038" y="20" width="26" height="1" fill="#fff"/><rect x="1063" y="0" width="1" height="21" fill="#fff"/></g>
<path d="M493 9h5l-2.5 3z" fill="#000" shape-rendering="crispEdges"/>
<g shape-rendering="crispEdges" fill="#000"><rect x="493" y="9" width="5" height="1"/><rect x="494" y="10" width="3" height="1"/><rect x="495" y="11" width="1" height="1"/></g>
<path d="M532 9h5l-2.5 3z" fill="#000" shape-rendering="crispEdges"/>
<g shape-rendering="crispEdges" fill="#000"><rect x="532" y="9" width="5" height="1"/><rect x="533" y="10" width="3" height="1"/><rect x="534" y="11" width="1" height="1"/></g>
<path d="M571 9h5l-2.5 3z" fill="#000" shape-rendering="crispEdges"/>
<g shape-rendering="crispEdges" fill="#000"><rect x="571" y="9" width="5" height="1"/><rect x="572" y="10" width="3" height="1"/><rect x="573" y="11" width="1" height="1"/></g>
<path d="M877 9h5l-2.5 3z" fill="#000" shape-rendering="crispEdges"/>
<g shape-rendering="crispEdges" fill="#000"><rect x="877" y="9" width="5" height="1"/><rect x="878" y="10" width="3" height="1"/><rect x="879" y="11" width="1" height="1"/></g>
<g shape-rendering="crispEdges"><rect x="0" y="12" width="4" height="4" fill="#00a000"/><rect x="0" y="13" width="3" height="2" fill="#10e020"/><rect x="0" y="5" width="1" height="7" fill="#cfcfcf"/><rect x="0" y="16" width="1" height="4" fill="#e2e2e2"/></g>
<g font-family="'Liberation Sans', 'Noto Sans CJK SC', sans-serif" font-size="11.300" fill="#000" stroke="#000" stroke-width="0.200"><text x="6.2" y="13.2" textLength="37.6" lengthAdjust="spacingAndGlyphs">新订单</text><text x="158.8" y="13.2" textLength="48.4" lengthAdjust="spacingAndGlyphs">自动交易</text></g>
<path d="M60.300 3L69.900 9.300 71 11.600 63 17.800 54.900 11.900C57.400 9.800 59.200 7 60.300 3z" fill="#a4620e" stroke="#a4620e" stroke-width="0.700" stroke-linejoin="round"/>
<path d="M69.500 10.100L70.500 11.600 63.300 17.100 64 15.300z" fill="#e6d898"/><path d="M69.900 10.900L63.700 16.100" stroke="#a87820" stroke-width="0.500"/>
<path d="M60.900 4.300L68.900 9.600 63.900 14.700 56.500 11.300C58.500 9.400 60 7.200 60.900 4.300z" fill="url(#gold)"/>
<path d="M56 12L63.600 15.500 63 16.900 55.800 12.700z" fill="#f6dc90"/>
<path d="M85.100 2.600L88.400 4.900V11H85.100z" fill="#0890f0"/><path d="M85.100 2.400H93L96 4.600 88.400 4.800z" fill="#58b8ff"/><rect x="88.400" y="4.700" width="7.600" height="6.300" fill="#20a0ff"/>
<path d="M85.600 2.900L88.400 4.900V10.600" fill="none" stroke="#fff" stroke-width="0.700" opacity="0.900"/><rect x="90" y="6.700" width="4.600" height="0.900" fill="#fff" opacity="0.950"/><rect x="89.500" y="8.200" width="6" height="0.700" fill="#a8dcff"/>
<path d="M85.600 17.500C83.600 17.500 83 15.800 83.600 14.600 84 13.500 85 13 86 13.200 86 11.800 87 11.200 88.600 11.600 89.400 10.200 91.600 9.800 93 10.800 93.600 11.300 94 11.900 94.300 12.600 95 11.400 96.600 11.100 97.600 11.800 99 12.700 99.300 14.400 98.600 15.600 98.600 16.800 97.600 17.500 96.400 17.500z" fill="url(#cloud)" stroke="#405890" stroke-width="0.900" stroke-linejoin="round"/>
<circle cx="118.9" cy="9.95" r="8.200" fill="#f3f4f7"/><path d="M118.9 9.95L118.90 17.95A8.0 8.0 0 0 0 122.90 16.88z" fill="#38a838" opacity="0.85"/><path d="M118.9 9.95L122.90 16.88A8.0 8.0 0 0 0 125.83 13.95z" fill="#38a838" opacity="0.66"/><path d="M118.9 9.95L125.83 13.95A8.0 8.0 0 0 0 126.90 9.95z" fill="#38a838" opacity="0.5"/><path d="M118.9 9.95L126.90 9.95A8.0 8.0 0 0 0 125.83 5.95z" fill="#38a838" opacity="0.38"/><path d="M118.9 9.95L125.83 5.95A8.0 8.0 0 0 0 122.90 3.02z" fill="#38a838" opacity="0.26"/><path d="M118.9 9.95L122.90 3.02A8.0 8.0 0 0 0 118.90 1.95z" fill="#38a838" opacity="0.14"/>
<circle cx="118.9" cy="9.95" r="7.500" fill="none" stroke="url(#ring)" stroke-width="1.200"/><circle cx="118.9" cy="9.95" r="4.700" fill="none" stroke="url(#ring)" stroke-width="1.200"/><circle cx="118.9" cy="9.95" r="2" fill="#2858c8"/><rect x="118.900" y="10" width="1.500" height="8" fill="#18a018"/>
<path d="M138.400 9.200h15.300l-1.800 3.400-3.900 5.300h-2.900z" fill="url(#face)" stroke="#c89010" stroke-width="0.700" stroke-linejoin="round"/>
<path d="M138.200 6.800C138.200 5.600 139.600 5.200 141 5.600 142.500 6.600 149 6.600 150.600 5.200 152 4.200 153.800 4.400 153.800 5.600 153.800 7.800 150 9.100 146 9.100 142 9.100 138.200 8.200 138.200 6.800z" fill="url(#hat)" stroke="#2080a8" stroke-width="0.800"/>
<path d="M142 6C142 3.400 143.600 2 145.600 2 147.600 2 149.100 3.400 149.100 5.800 147.500 7 143.600 7 142 6z" fill="url(#hat)" stroke="#2080a8" stroke-width="0.700"/>
<path d="M143.300 5c0.300-1.200 1.100-2 2.200-2.100" fill="none" stroke="#d0f0ff" stroke-width="0.900" opacity="0.800"/><path d="M150.800 6.800l1.800-1.300" stroke="#d8f0ff" stroke-width="0.800" opacity="0.900"/>
<circle cx="150.300" cy="13.400" r="4.200" fill="#e02800" stroke="#b01800" stroke-width="0.600"/><rect x="149.100" y="12.100" width="2.800" height="2.700" fill="#fff"/>
<g stroke="#555" stroke-width="1" fill="#555"><path d="M232.5 5v13" fill="none"/><path d="M230 15.5h13" fill="none"/><path d="M232.5 4l1.600 2.400h-3.200z" stroke="none"/><path d="M244 15.5l-2.400 1.600v-3.200z" stroke="none"/></g>
<g stroke="#108810" stroke-width="1.2" fill="none"><path d="M238.5 5.2v8.6M238.5 6.5h2.8M236 12.4h2.5"/></g>
<g stroke="#555" stroke-width="1" fill="#555"><path d="M260.5 5v13" fill="none"/><path d="M258 15.5h13" fill="none"/><path d="M260.5 4l1.600 2.400h-3.200z" stroke="none"/><path d="M272 15.5l-2.400 1.600v-3.200z" stroke="none"/></g>
<path d="M266.5 2v12" stroke="#10a010" stroke-width="1.2"/><rect x="264.4" y="4.6" width="4.3" height="7.2" fill="url(#grn)" stroke="#10a010" stroke-width="0.9"/>
<g stroke="#555" stroke-width="1" fill="#555"><path d="M288.5 5v13" fill="none"/><path d="M286 15.5h13" fill="none"/><path d="M288.5 4l1.600 2.400h-3.200z" stroke="none"/><path d="M300 15.5l-2.400 1.600v-3.200z" stroke="none"/></g>
<path d="M287 12.6C290 10.500 291 7.300 293.100 7.300S296.500 10.800 298.900 11.300" fill="none" stroke="#1a8a1a" stroke-width="1.3"/>
<path d="M327.70000000000005 11.8l5.6 4.600" stroke="#a87808" stroke-width="3.4" stroke-linecap="butt"/><path d="M327.90000000000003 11.900l5.2 4.300" stroke="#f0d030" stroke-width="1.9"/>
<circle cx="324.1" cy="7.8" r="5.400" fill="url(#glass)" stroke="#2e74c8" stroke-width="1.2"/>
<path d="M320.5 7.8h7.2" stroke="#3a7ca8" stroke-width="1.800"/>
<path d="M324.1 4.2v7.2" stroke="#3a7ca8" stroke-width="1.800"/>
<path d="M355.70000000000005 11.8l5.6 4.600" stroke="#a87808" stroke-width="3.4" stroke-linecap="butt"/><path d="M355.90000000000003 11.900l5.2 4.300" stroke="#f0d030" stroke-width="1.9"/>
<circle cx="352.1" cy="7.8" r="5.400" fill="url(#glass)" stroke="#2e74c8" stroke-width="1.2"/>
<path d="M348.5 7.8h7.2" stroke="#3a7ca8" stroke-width="1.800"/>
<g shape-rendering="crispEdges">
<rect x="374" y="2" width="8" height="8" fill="#3a9c10"/><rect x="375" y="3" width="1" height="1" fill="#fff" opacity="0.900"/><rect x="375" y="5" width="6" height="3" fill="#fff"/><rect x="375" y="8" width="1" height="1" fill="#fff"/><rect x="380" y="8" width="1" height="1" fill="#fff"/><rect x="376" y="8" width="4" height="1" fill="#b4e2a4" opacity="0.700"/>
<rect x="376" y="6" width="4" height="1" fill="#b4e2a4"/>
<rect x="382" y="2" width="8" height="8" fill="#2458cc"/><rect x="383" y="3" width="1" height="1" fill="#fff" opacity="0.900"/><rect x="383" y="5" width="6" height="3" fill="#fff"/><rect x="383" y="8" width="1" height="1" fill="#fff"/><rect x="388" y="8" width="1" height="1" fill="#fff"/><rect x="384" y="8" width="4" height="1" fill="#a4bcf0" opacity="0.700"/>
<rect x="384" y="6" width="1" height="1" fill="#a4bcf0"/><rect x="386" y="6" width="2" height="1" fill="#a4bcf0"/>
<rect x="374" y="10" width="8" height="8" fill="#2458cc"/><rect x="375" y="11" width="1" height="1" fill="#fff" opacity="0.900"/><rect x="375" y="13" width="6" height="3" fill="#fff"/><rect x="375" y="16" width="1" height="1" fill="#fff"/><rect x="380" y="16" width="1" height="1" fill="#fff"/><rect x="376" y="16" width="4" height="1" fill="#a4bcf0" opacity="0.700"/>
<rect x="376" y="14" width="1" height="1" fill="#a4bcf0"/><rect x="378" y="14" width="2" height="1" fill="#a4bcf0"/>
<rect x="382" y="10" width="8" height="8" fill="#3a9c10"/><rect x="383" y="11" width="1" height="1" fill="#fff" opacity="0.900"/><rect x="383" y="13" width="6" height="3" fill="#fff"/><rect x="383" y="16" width="1" height="1" fill="#fff"/><rect x="388" y="16" width="1" height="1" fill="#fff"/><rect x="384" y="16" width="4" height="1" fill="#b4e2a4" opacity="0.700"/>
<rect x="384" y="14" width="4" height="1" fill="#b4e2a4"/>
</g>
<g stroke="#555" stroke-width="1" fill="#555"><path d="M412.5 5v13" fill="none"/><path d="M410 15.5h13" fill="none"/><path d="M412.5 4l1.600 2.400h-3.200z" stroke="none"/><path d="M424 15.5l-2.400 1.600v-3.200z" stroke="none"/></g>
<path d="M417.2 6.2v6.600l3.800-3.300z" fill="#60e880" stroke="#10a010" stroke-width="0.9" stroke-linejoin="round"/>
<g stroke="#555" stroke-width="1" fill="#555"><path d="M440.5 5v13" fill="none"/><path d="M438 15.5h13" fill="none"/><path d="M440.5 4l1.600 2.400h-3.200z" stroke="none"/><path d="M452 15.5l-2.400 1.600v-3.200z" stroke="none"/></g>
<path d="M446.5 4v9.600" stroke="#1e6fa0" stroke-width="1.1"/><path d="M447.300 9.300l2.600-2.200-0.500 1.700h2.300v1h-2.300l0.500 1.700z" fill="#e05000" stroke="#c84000" stroke-width="0.4"/>
<path d="M471.500 2.800h7.600l3.400 3.400v9.200h-11z" fill="#fff" stroke="#787878" stroke-width="1"/><path d="M479.100 2.800v3.400h3.400" fill="#e8e8e8" stroke="#787878" stroke-width="0.800"/><path d="M476.500 4.800c-1.400 0.200-2.100 0.900-2.100 2v5.900" fill="none" stroke="#403820" stroke-width="1"/><path d="M473.400 8.500h3M473.400 12.700h1.800" stroke="#605838" stroke-width="0.700"/>
<path d="M479.300 8.500h3.300v3.900h3.900v3.300h-3.900v3.900h-3.300v-3.900h-3.900v-3.300h3.900z" fill="url(#plusg)" stroke="#0a800a" stroke-width="1" stroke-linejoin="round"/>
<circle cx="516.950" cy="9.900" r="6.750" fill="#fdfdfd" stroke="url(#clk)" stroke-width="2.400"/><circle cx="516.950" cy="9.900" r="4.500" fill="none" stroke="#707880" stroke-width="0.900" stroke-dasharray="0.700 1.870"/><path d="M516.400 6.400l0.500 3.600 2.900-0.600" fill="none" stroke="#101010" stroke-width="1.300" stroke-linejoin="round"/>
<g shape-rendering="crispEdges"><rect x="548" y="3" width="16" height="14" fill="#3070b8"/><rect x="549" y="4" width="14" height="2" fill="#5c98d8"/><rect x="549" y="6" width="14" height="5" fill="#fff"/><rect x="549" y="11" width="14" height="1" fill="#7098c8"/><rect x="549" y="12" width="14" height="4" fill="#fff"/><rect x="549" y="4" width="6" height="1" fill="#b8d8f8"/><rect x="550" y="9" width="3" height="1" fill="#8b1a00"/><rect x="553" y="8" width="2" height="1" fill="#8b1a00"/><rect x="555" y="7" width="2" height="1" fill="#8b1a00"/><rect x="557" y="8" width="3" height="1" fill="#8b1a00"/><rect x="560" y="7" width="2" height="1" fill="#8b1a00"/><rect x="551" y="14" width="2" height="1" fill="#108020"/><rect x="553" y="13" width="2" height="1" fill="#108020"/><rect x="555" y="14" width="2" height="1" fill="#108020"/><rect x="557" y="13" width="1" height="1" fill="#108020"/><rect x="558" y="12" width="2" height="1" fill="#108020"/><rect x="560" y="13" width="1" height="1" fill="#108020"/><rect x="561" y="14" width="1" height="1" fill="#108020"/></g>
<path d="M600.200 3v10.900l2.500-2.300 2.400 5.300 1.600-0.800-2.400-5.100h3.500z" fill="#505050"/>
<g stroke="#484848" stroke-width="1.100"><path d="M625 10.500h5.600M634.200 10.500h6M632.500 3v5.700M632.500 12.300v5.700"/></g>
<g stroke="#484848" stroke-width="1.100" fill="none"><path d="M666.500 4v13M689 10.500h12"/><path d="M717 17l12.200-12.200" stroke-width="0.900"/></g>
<g stroke="#484848" stroke-width="0.900" fill="none"><path d="M742.300 11.700l8.900-7.800M747.700 16.400l9.400-8"/><path d="M744.800 9.400v5.400M747.200 7.400v5.900M749.700 5.400v6.900M752.200 4.400v5.900M755.100 2v6.400" stroke-width="1"/><path d="M743.800 13.800l12.300-8.900" stroke-width="0.800"/></g>
<text x="754" y="18.900" font-family="'Liberation Sans', sans-serif" font-size="7" font-weight="bold" fill="#404040">E</text>
<path d="M772 3.5h14" stroke="#484848" stroke-width="1" stroke-dasharray="1 1" shape-rendering="crispEdges"/>
<path d="M772 6.5h14" stroke="#484848" stroke-width="1" stroke-dasharray="1 1" shape-rendering="crispEdges"/>
<path d="M772 10.5h14" stroke="#484848" stroke-width="1" stroke-dasharray="1 1" shape-rendering="crispEdges"/>
<path d="M772 14.5h10" stroke="#484848" stroke-width="1" stroke-dasharray="1 1" shape-rendering="crispEdges"/>
<text x="781.800" y="18.900" font-family="'Liberation Sans', sans-serif" font-size="7" font-weight="bold" fill="#404040">F</text>
<text x="802.500" y="14.900" font-family="'Liberation Sans', sans-serif" font-size="12.500" fill="#505050" stroke="#505050" stroke-width="0.450">A</text>
<rect x="829.500" y="4.500" width="11" height="12" fill="none" stroke="#484848" stroke-width="1" stroke-dasharray="1 1" shape-rendering="crispEdges"/><rect x="828" y="3" width="2" height="1" fill="#484848"/><text x="831" y="14.900" font-family="'Liberation Sans', sans-serif" font-size="11" fill="#505050" stroke="#505050" stroke-width="0.400" textLength="8" lengthAdjust="spacingAndGlyphs">T</text>
<g fill="#505050"><path d="M859.400 3.800L863 7.400H861.300L859.400 8.800 857.500 7.400H855.900z"/><path d="M866.600 17.100L863 13.400H864.700L866.600 12 868.500 13.400H870.200z"/><path d="M858.200 11.900l2.300 1.700 4.200-5" fill="none" stroke="#505050" stroke-width="1.100"/></g>
<g font-family="'Liberation Sans', sans-serif" font-size="9.800" fill="#3a3a3a" stroke="#3a3a3a" stroke-width="0.100">
<text x="903.3" y="13.500" textLength="12.9" lengthAdjust="spacingAndGlyphs">M1</text>
<text x="931.4" y="13.500" textLength="12.8" lengthAdjust="spacingAndGlyphs">M5</text>
<text x="957.3" y="13.500" textLength="18.1" lengthAdjust="spacingAndGlyphs">M15</text>
<text x="985.4" y="13.500" textLength="18.0" lengthAdjust="spacingAndGlyphs">M30</text>
<text x="1016.2" y="13.500" textLength="12.0" lengthAdjust="spacingAndGlyphs">H1</text>
<text x="1043.1" y="13.500" textLength="12.8" lengthAdjust="spacingAndGlyphs">H4</text>
<text x="1072.2" y="13.500" textLength="12.1" lengthAdjust="spacingAndGlyphs">D1</text>
<text x="1099.7" y="13.500" textLength="14.7" lengthAdjust="spacingAndGlyphs">W1</text>
<text x="1126.2" y="13.500" textLength="15.1" lengthAdjust="spacingAndGlyphs">MN</text>
</g>
<path d="M1616.400 10.700l-4.400 4.300" stroke="#2848c0" stroke-width="2.400" stroke-linecap="round"/><circle cx="1619.600" cy="7.600" r="4.100" fill="#f4f4ff" stroke="#2868d8" stroke-width="1.200"/>
<path d="M1642 7.200c3.300 0 6 2 6 4.600s-2.700 4.600-6 4.600c-0.500 0-1-0.050-1.500-0.150l-1.300 2.300-0.400-3c-1.700-0.800-2.800-2.200-2.800-3.750 0-2.600 2.700-4.600 6-4.600z" fill="url(#bub)" stroke="#9c9c9c" stroke-width="0.900"/>
<circle cx="1650.600" cy="7.600" r="8.300" fill="url(#redb)"/><text x="1645.600" y="12.100" font-family="'Liberation Sans', sans-serif" font-size="13" fill="#fff" stroke="#fff" stroke-width="0.500">1</text>
</g>
</svg>
</body></html>
